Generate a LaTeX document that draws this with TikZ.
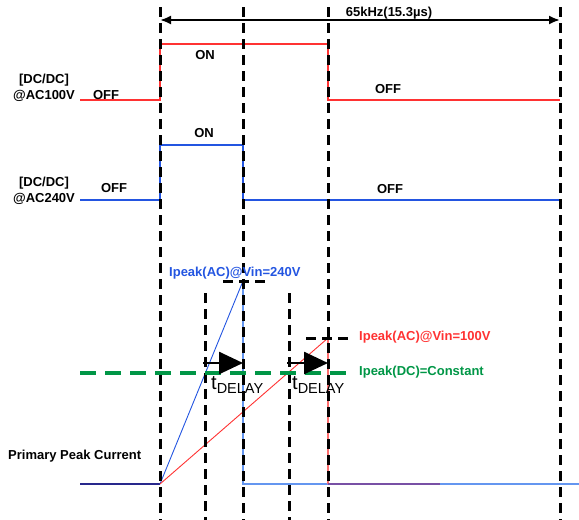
\documentclass[tikz,border=0pt]{standalone}
\usepackage{fontspec}
\setmainfont{Liberation Sans}
\usetikzlibrary{arrows.meta}
\definecolor{sigred}{RGB}{255,50,50}
\definecolor{sigblue}{RGB}{35,85,225}
\definecolor{lightblue}{RGB}{100,150,240}
\definecolor{navy}{RGB}{40,40,140}
\definecolor{mixpurple}{RGB}{120,80,165}
\definecolor{pinkred}{RGB}{255,110,110}
\definecolor{dcgreen}{RGB}{0,150,70}
\begin{document}
\begin{tikzpicture}[x=1pt, y=-1pt,
    guide/.style={black, line width=3pt, dash pattern=on 10pt off 6pt},
    lbl/.style={font=\fontsize{13}{16}\selectfont\bfseries, inner sep=0pt, align=center},
    delay/.style={-{Triangle[length=24pt,width=22pt]}, line width=2.6pt},
    tlbl/.style={inner sep=0pt, anchor=west}]
    \useasboundingbox (0,0) rectangle (579,520);

    % Zeitpunkte
    \coordinate (r0) at (80,100);   \coordinate (r1) at (160,100);
    \coordinate (r2) at (160,44);   \coordinate (r3) at (328,44);
    \coordinate (r4) at (328,100);  \coordinate (r5) at (560,100);
    \coordinate (b0) at (80,200);   \coordinate (b1) at (160,200);
    \coordinate (b2) at (160,145);  \coordinate (b3) at (243,145);
    \coordinate (b4) at (243,200);  \coordinate (b5) at (560,200);
    \coordinate (i0) at (80,484);   \coordinate (i1) at (160,484);
    \coordinate (pk240) at (243,281); \coordinate (pk100) at (328,338);
    \coordinate (i2) at (243,484);  \coordinate (i3) at (328,484);
    \coordinate (i4) at (440,484);  \coordinate (i5) at (579,484);

    % Schaltsignale
    \draw[sigred, line width=1.2pt] (r0) -- (r1) -- (r2) -- (r3) -- (r4) -- (r5);
    \draw[sigblue, line width=1.2pt] (b0) -- (b1) -- (b2) -- (b3) -- (b4) -- (b5);

    % Primaerstrom
    \draw[navy, line width=1.3pt] (i0) -- (i1);
    \draw[sigblue, line width=0.9pt] (i1) -- (pk240);
    \draw[sigred, line width=0.9pt] (i1) -- (pk100);
    \draw[lightblue, line width=1.4pt] (pk240) -- (i2) -- (i5);
    \draw[pinkred, line width=1.2pt] (pk100) -- (i3);
    \draw[mixpurple, line width=1.6pt] (i3) -- (i4);

    % Hilfslinien
    \foreach \x in {160,243,328,560}
        \draw[guide] (\x,7) -- (\x,520);
    \foreach \x in {205,289}
        \draw[guide] (\x,293) -- (\x,520);
    \draw[guide] (223,281) -- (270,281);
    \draw[guide] (306,338) -- (354,338);
    \draw[dcgreen, line width=4.5pt, dash pattern=on 16pt off 9pt] (80,373) -- (354,373);

    % Periode
    \coordinate (p0) at (160,20);
    \coordinate (p1) at (560,20);
    \draw[{Latex[length=11pt,width=9pt]}-{Latex[length=11pt,width=9pt]}, line width=2pt] (p0) -- (p1);
    \node[lbl] (per) at (389,13) {65kHz(15.3µs)};

    % Verzoegerung
    \draw[delay] (203,363) -- (243,363);
    \draw[delay] (287,363) -- (328,363);
    \node[tlbl] (td1) at (211,385) {\fontsize{20}{20}\selectfont t\raisebox{-4pt}{\fontsize{14.5}{15}\selectfont DELAY}};
    \node[tlbl] (td2) at (292,385) {\fontsize{20}{20}\selectfont t\raisebox{-4pt}{\fontsize{14.5}{15}\selectfont DELAY}};

    % Beschriftungen
    \node[lbl] (dc100) at (44,88) {[DC/DC]\\@AC100V};
    \node[lbl] (dc240) at (44,191) {[DC/DC]\\@AC240V};
    \node[lbl] (off1) at (106,95) {OFF};
    \node[lbl] (on1) at (205,55) {ON};
    \node[lbl] (off2) at (388,89) {OFF};
    \node[lbl] (off3) at (114,188) {OFF};
    \node[lbl] (on2) at (204,133) {ON};
    \node[lbl] (off4) at (390,189) {OFF};
    \node[lbl, sigblue, anchor=west] (ip240) at (169,273) {Ipeak(AC)@Vin=240V};
    \node[lbl, sigred, anchor=west] (ip100) at (359,337) {Ipeak(AC)@Vin=100V};
    \node[lbl, dcgreen, anchor=west] (ipdc) at (359,372) {Ipeak(DC)=Constant};
    \node[lbl, anchor=west] (prim) at (8,456) {Primary Peak Current};
\end{tikzpicture}
\end{document}
